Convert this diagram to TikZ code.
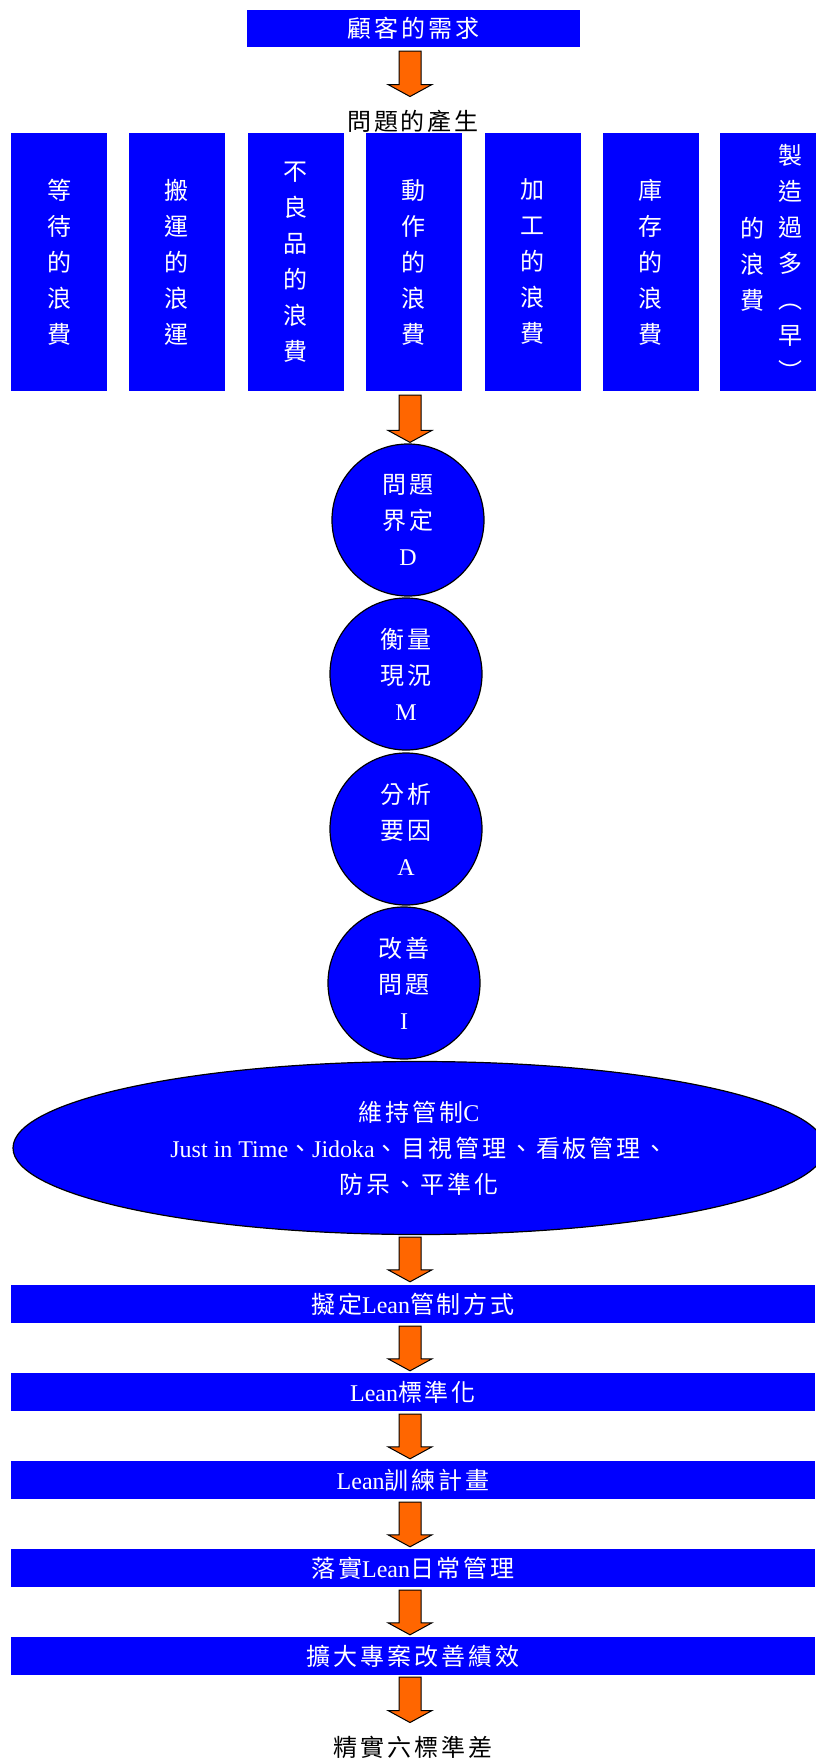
\documentclass[tikz,border=0pt]{standalone}
\usepackage{fontspec}
\setmainfont{Liberation Serif}
\newfontfamily\cjkfont{Noto Sans CJK TC}[LetterSpace=12]
\newcommand\zh[1]{{\cjkfont #1}}
\usetikzlibrary{shapes.geometric,calc}
\definecolor{pblue}{RGB}{0,0,255}
\definecolor{porange}{RGB}{255,102,0}
\tikzset{
 hbox/.style={fill=pblue, text=white, inner sep=0, minimum width=804, minimum height=38, font=\fontsize{24}{36}\selectfont},
 vbox/.style={fill=pblue, text=white, inner sep=0, minimum width=96, minimum height=258, align=center, font=\fontsize{24}{36}\selectfont\cjkfont},
 vtext/.style={text=white, align=center, font=\fontsize{24}{36}\selectfont\cjkfont, inner sep=0},
 circ/.style={circle, draw=black, line width=1.2pt, fill=pblue, text=white, minimum size=152, inner sep=0, align=center, font=\fontsize{24}{36}\selectfont},
 arrowstyle/.style={fill=porange, draw=black, line width=1pt, line join=miter},
 plain/.style={font=\fontsize{24}{36}\selectfont, inner sep=0}
}
\newcommand\barrow[2]{%
  \draw[arrowstyle] let \p1=(#1), \p2=(#2) in
   (410pt-11pt,\y1) -- (410pt+11pt,\y1) -- (410pt+11pt,\y2+12pt) -- (410pt+22pt,\y2+12pt)
   -- (410pt,\y2) -- (410pt-22pt,\y2+12pt) -- (410pt-11pt,\y2+12pt) -- cycle;}
\begin{document}
\begin{tikzpicture}[x=1pt,y=-1pt]
\useasboundingbox (0,0) rectangle (815,1760);
% top
\node[hbox, minimum width=333, minimum height=37] (top) at (413.5,28.5) {\zh{顧客的需求}};
\node[plain] (prob) at (413,121) {\zh{問題的產生}};
% vertical boxes
\node[vbox] (v1) at (59,262) {等\\待\\的\\浪\\費};
\node[vbox] (v2) at (176.5,262) {搬\\運\\的\\浪\\運};
\node[vbox] (v3) at (295.5,262) {不\\良\\品\\的\\浪\\費};
\node[vbox] (v4) at (413.5,262) {動\\作\\的\\浪\\費};
\node[vbox] (v5) at (532.5,262) {加\\工\\的\\浪\\費};
\node[vbox] (v6) at (650.5,262) {庫\\存\\的\\浪\\費};
\node[vbox] (v7) at (768,262) {};
\node[vtext] (v7r) at (790,262) {製\\造\\過\\多\\︵\\早\\︶};
\node[vtext] (v7l) at (752,264) {的\\浪\\費};
% circles
\node[circ] (cD) at (408,520) {\zh{問題}\\\zh{界定}\\D};
\node[circ] (cM) at (406,674) {\zh{衡量}\\\zh{現況}\\M};
\node[circ] (cA) at (406,829) {\zh{分析}\\\zh{要因}\\A};
\node[circ] (cI) at (404,983) {\zh{改善}\\\zh{問題}\\I};
% ellipse
\node[ellipse, draw=black, line width=1.2pt, fill=pblue, text=white, minimum width=812, minimum height=173, inner sep=0, align=center, font=\fontsize{24}{36}\selectfont] (ell) at (419,1148)
  {\zh{維持管制}C\\Just in Time\zh{、}Jidoka\zh{、目視管理、看板管理、}\\\zh{防呆、平準化}};
% horizontal boxes
\node[hbox] (b1) at (413,1304) {\zh{擬定}Lean\zh{管制方式}};
\node[hbox] (b2) at (413,1392) {Lean\zh{標準化}};
\node[hbox] (b3) at (413,1480) {Lean\zh{訓練計畫}};
\node[hbox] (b4) at (413,1568) {\zh{落實}Lean\zh{日常管理}};
\node[hbox] (b5) at (413,1656) {\zh{擴大專案改善績效}};
\node[plain] (fin) at (413,1747) {\zh{精實六標準差}};
% arrows
\barrow{$(top.south)+(0,4)$}{$(prob.north)+(0,-13)$}
\barrow{$(v4.south)+(0,4)$}{$(cD.north)+(0,-1)$}
\barrow{$(ell.south)+(0,2)$}{$(b1.north)+(0,-3)$}
\barrow{$(b1.south)+(0,3)$}{$(b2.north)+(0,-2)$}
\barrow{$(b2.south)+(0,3)$}{$(b3.north)+(0,-2)$}
\barrow{$(b3.south)+(0,3)$}{$(b4.north)+(0,-2)$}
\barrow{$(b4.south)+(0,3)$}{$(b5.north)+(0,-2)$}
\barrow{$(b5.south)+(0,2)$}{$(fin.north)+(0,-13)$}
\end{tikzpicture}
\end{document}
